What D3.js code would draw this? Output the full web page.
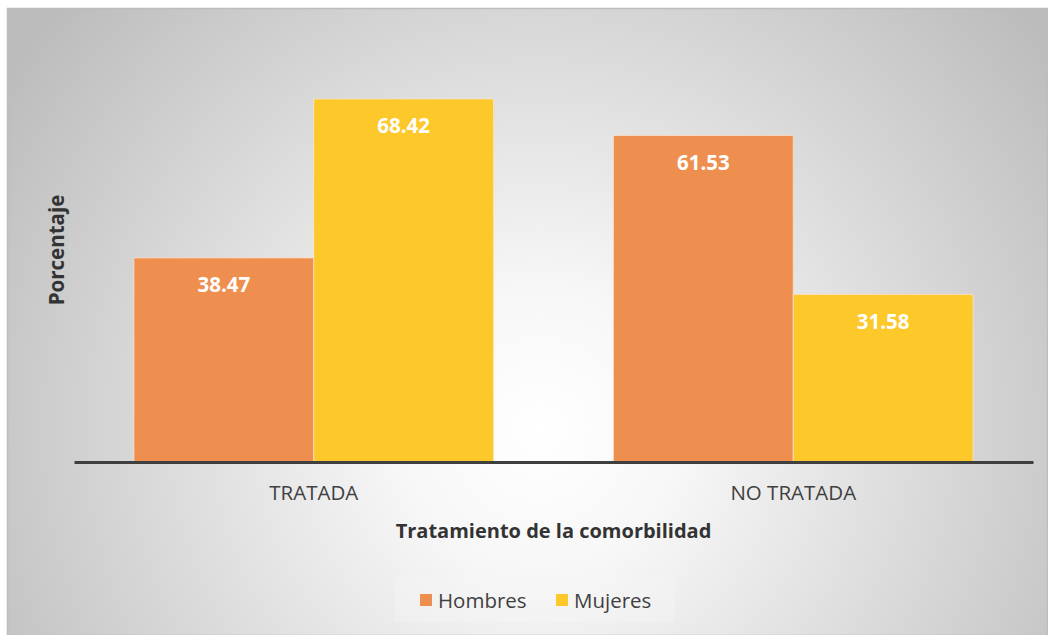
<!DOCTYPE html>
<html><head><meta charset="utf-8">
<script src="https://cdn.jsdelivr.net/npm/d3@7"></script>
<style>html,body{margin:0;padding:0;background:#fff;}svg{display:block;}</style>
</head><body>
<svg id="c" width="1048" height="635"></svg>
<script>
const categories = ["TRATADA", "NO TRATADA"];
const seriesNames = ["Hombres", "Mujeres"];
const hombres = [38.47, 61.53];
const mujeres = [68.42, 31.58];
const colors = ["#EE8F50", "#FDC82A"];

const svg = d3.select("#c");
const W = 1048, H = 635;
const defs = svg.append("defs");
const grad = defs.append("radialGradient").attr("id","bg")
  .attr("gradientUnits","userSpaceOnUse").attr("cx",540).attr("cy",430).attr("r",640);
grad.append("stop").attr("offset","0").attr("stop-color","#ffffff");
grad.append("stop").attr("offset","0.22").attr("stop-color","#f7f7f7");
grad.append("stop").attr("offset","1").attr("stop-color","#bcbcbc");

svg.append("rect").attr("x",7.5).attr("y",8.5).attr("width",W-8).attr("height",H-8)
  .attr("fill","url(#bg)").attr("stroke","#bdbdbd").attr("stroke-width",1.5);

const left = 74, right = 1033, base = 462;
const x0 = d3.scaleBand().domain(categories).range([left, right]).paddingInner(0.25).paddingOuter(0.125);
const x1 = d3.scaleBand().domain(seriesNames).range([0, x0.bandwidth()]);
const y = d3.scaleLinear().domain([0, 80]).range([base, base - 80*5.306]);

const data = categories.map((c,i)=>({cat:c, vals:[hombres[i], mujeres[i]]}));
const g = svg.append("g");
data.forEach(d=>{
  d.vals.forEach((v,j)=>{
    const bx = x0(d.cat) + x1(seriesNames[j]);
    g.append("rect").attr("x",bx).attr("y",y(v)).attr("width",x1.bandwidth()).attr("height",base - y(v))
      .attr("fill",colors[j]).attr("stroke","#fbe6d6").attr("stroke-opacity",0.7).attr("stroke-width",1);
    g.append("text").attr("x",bx + x1.bandwidth()/2).attr("y",y(v)+34.5)
      .attr("text-anchor","middle").attr("fill","#fff")
      .attr("font-family","Open Sans").attr("font-weight","bold").attr("font-size",20.5)
      .text(v.toFixed(2));
  });
});

// axis
const xAxis = d3.axisBottom(x0).tickSize(0).tickPadding(23);
const ax = svg.append("g").attr("transform",`translate(0,${base})`).call(xAxis);
ax.select(".domain").attr("stroke","#3f3f3f").attr("stroke-width",3.2);
ax.selectAll("text").attr("font-family","Open Sans").attr("font-size",20.5).attr("fill","#404040");

svg.append("text").attr("x",(left+right)/2).attr("y",538).attr("text-anchor","middle")
  .attr("font-family","Open Sans").attr("font-weight","bold").attr("font-size",20).attr("fill","#333")
  .text("Tratamiento de la comorbilidad");
svg.append("text").attr("transform","translate(64,250) rotate(-90)").attr("text-anchor","middle")
  .attr("font-family","Open Sans").attr("font-weight","bold").attr("font-size",20.5).attr("fill","#333")
  .text("Porcentaje");

// legend
svg.append("rect").attr("x",395).attr("y",577).attr("width",280).attr("height",45).attr("fill","#f7f7f7").attr("opacity",0.35);
const legX = [420, 556];
seriesNames.forEach((s,j)=>{
  svg.append("rect").attr("x",legX[j]).attr("y",594).attr("width",12).attr("height",12).attr("fill",colors[j]);
  svg.append("text").attr("x",legX[j]+18).attr("y",607.5).attr("font-family","Open Sans").attr("font-size",20.5)
    .attr("fill","#404040").text(s);
});
</script>
</body></html>
